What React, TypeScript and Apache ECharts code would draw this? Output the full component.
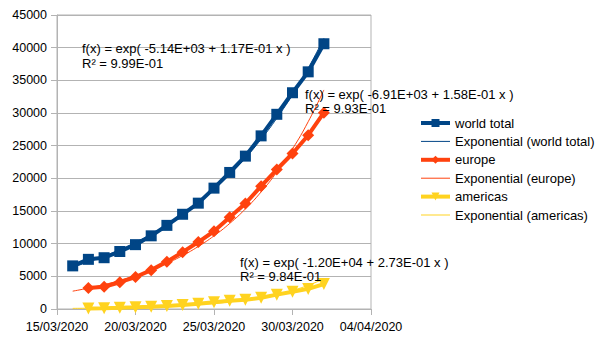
import React, { useEffect, useRef } from "react";
import * as echarts from "echarts";

// ---- data ----
const axisStart = "15/03/2020";
const dates = [
  "16/03/2020", "17/03/2020", "18/03/2020", "19/03/2020", "20/03/2020", "21/03/2020",
  "22/03/2020", "23/03/2020", "24/03/2020", "25/03/2020", "26/03/2020", "27/03/2020",
  "28/03/2020", "29/03/2020", "30/03/2020", "31/03/2020", "01/04/2020",
];
const worldTotal = [6600, 7600, 7850, 8800, 9850, 11200, 12800, 14500, 16200, 18500, 20900, 23400, 26500, 29800, 33100, 36300, 40600];
const europe = [null, 3200, 3400, 4100, 4900, 5950, 7250, 8700, 10250, 11900, 14050, 16150, 18800, 21350, 23800, 26600, 30050];
const americas = [null, 90, 130, 190, 260, 350, 470, 620, 820, 1030, 1250, 1420, 1720, 2200, 2650, 3080, 3820];
const xTickLabels = ["15/03/2020", "20/03/2020", "25/03/2020", "30/03/2020", "04/04/2020"];
const seriesNames = ["world total", "europe", "americas"];
const trendNames = ["Exponential (world total)", "Exponential (europe)", "Exponential (americas)"];
const trendEquations = [
  "f(x) = exp( -5.14E+03 + 1.17E-01 x )",
  "f(x) = exp( -6.91E+03 + 1.58E-01 x )",
  "f(x) = exp( -1.20E+04 + 2.73E-01 x )",
];
const trendR2 = ["R² = 9.99E-01", "R² = 9.93E-01", "R² = 9.84E-01"];

const COLORS = ["#004586", "#ff420e", "#ffd320"];
const FONT = "Liberation Sans";

function parseDay(s: string): number {
  const [d, m, y] = s.split("/").map(Number);
  return Date.UTC(y, m - 1, d) / 86400000;
}
const x0 = parseDay(axisStart);
const xs = dates.map((d) => parseDay(d) - x0);

function points(values: (number | null)[]) {
  return values.map((v, i) => (v == null ? null : [xs[i], v])).filter((p) => p) as number[][];
}

// least-squares exponential fit (ln y = a + b x), as the spreadsheet trend line does
function expTrend(values: (number | null)[]) {
  const p = points(values).filter((q) => q[1] > 0);
  const n = p.length;
  let sx = 0, sy = 0, sxx = 0, sxy = 0;
  p.forEach(([x, y]) => {
    const ly = Math.log(y);
    sx += x; sy += ly; sxx += x * x; sxy += x * ly;
  });
  const b = (n * sxy - sx * sy) / (n * sxx - sx * sx);
  const a = (sy - b * sx) / n;
  return xs.map((x) => [x, Math.exp(a + b * x)]);
}

export default function App() {
  const ref = useRef<HTMLDivElement>(null);
  useEffect(() => {
    if (!ref.current) return;
    const chart = echarts.init(ref.current, null, { renderer: "svg" });
    const allValues = [worldTotal, europe, americas];
    const symbols = ["rect", "diamond", "triangle"];
    const symbolSizes = [11, 12, 12];
    const series: any[] = [];
    const legendData: any[] = [];
    allValues.forEach((vals, i) => {
      series.push({
        name: seriesNames[i],
        type: "line",
        data: points(vals),
        symbol: symbols[i],
        symbolSize: symbolSizes[i],
        symbolRotate: i === 2 ? 180 : 0,
        lineStyle: { color: COLORS[i], width: 4 },
        itemStyle: { color: COLORS[i] },
        z: 2,
      });
      series.push({
        name: trendNames[i],
        type: "line",
        data: expTrend(vals),
        symbol: "none",
        smooth: true,
        lineStyle: { color: COLORS[i], width: 1 },
        itemStyle: { color: COLORS[i] },
        z: 3,
      });
      legendData.push({ name: seriesNames[i], lineStyle: { width: 4 } });
      legendData.push({
        name: trendNames[i],
        icon: "path://M0,0H29V1H0Z",
        itemStyle: { color: COLORS[i] },
      });
    });
    const labelPos = [
      [82, 48.8, 63.2],
      [305, 94.8, 108.8],
      [240, 262.2, 276.5],
    ];
    const graphics: any[] = [];
    labelPos.forEach(([x, y1, y2], i) => {
      graphics.push({
        type: "text", x, y: y1, z: 10,
        style: { text: trendEquations[i], font: `13px "${FONT}"`, fill: "#000", verticalAlign: "middle" },
      });
      graphics.push({
        type: "text", x, y: y2, z: 10,
        style: { text: trendR2[i], font: `13px "${FONT}"`, fill: "#000", verticalAlign: "middle" },
      });
    });
    chart.setOption({
      animation: false,
      textStyle: { fontFamily: FONT },
      grid: { left: 57, top: 15, width: 314, height: 294, show: true, borderColor: "#b3b3b3", borderWidth: 1 },
      xAxis: {
        type: "value",
        min: 0,
        max: 20,
        interval: 5,
        axisLine: { show: true, lineStyle: { color: "#b3b3b3" } },
        axisTick: { show: true, length: 6, lineStyle: { color: "#b3b3b3" } },
        splitLine: { show: false },
        axisLabel: {
          color: "#000",
          fontSize: 12.5,
          margin: 11,
          fontFamily: FONT,
          formatter: (v: number) => xTickLabels[Math.round(v / 5)] ?? "",
        },
      },
      yAxis: {
        type: "value",
        min: 0,
        max: 45000,
        interval: 5000,
        axisLine: { show: true, lineStyle: { color: "#b3b3b3" } },
        axisTick: { show: true, length: 6, lineStyle: { color: "#b3b3b3" } },
        splitLine: { show: true, lineStyle: { color: "#b3b3b3" } },
        axisLabel: {
          color: "#000",
          fontSize: 12.5,
          margin: 10,
          fontFamily: FONT,
          formatter: (v: number) => String(v),
        },
      },
      legend: {
        orient: "vertical",
        left: 419,
        top: 116.5,
        padding: 0,
        itemWidth: 29,
        itemHeight: 10,
        itemGap: 5.4,
        textStyle: { color: "#000", fontSize: 13, fontFamily: FONT },
        data: legendData,
      },
      graphic: graphics,
      series,
    });
    return () => chart.dispose();
  }, []);
  return (
    <div
      ref={ref}
      style={{ position: "fixed", left: 0, top: 0, width: 605, height: 340, background: "#fff" }}
    />
  );
}
